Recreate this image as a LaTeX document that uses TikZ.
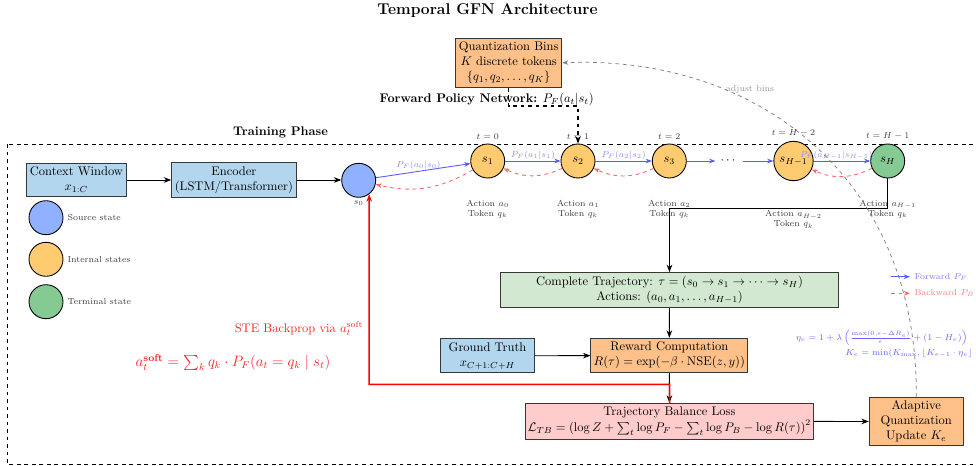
\documentclass[tikz,border=0pt]{standalone}
\usepackage{amsmath}
\usetikzlibrary{arrows.meta,calc}
\definecolor{boxblue}{RGB}{178,214,237}
\definecolor{boxorange}{RGB}{253,192,136}
\definecolor{boxgreen}{RGB}{210,232,208}
\definecolor{boxpink}{RGB}{255,204,204}
\definecolor{stblue}{RGB}{143,177,255}
\definecolor{storange}{RGB}{254,203,112}
\definecolor{stgreen}{RGB}{133,202,147}
\definecolor{edgegray}{RGB}{55,55,55}
\begin{document}
\begin{tikzpicture}[x=0.8pt,y=-0.8pt,
  box/.style={draw=edgegray,line width=0.8pt,align=center,inner sep=2pt},
  state/.style={circle,draw=black,line width=0.7pt,minimum size=27.2pt,inner sep=0pt},
  fwd/.style={-{Stealth[length=5pt]},draw=blue!65,line width=0.7pt},
  bwd/.style={-{Stealth[length=5pt]},draw=red!60,dashed,line width=0.7pt},
  arr/.style={-{Stealth[length=6pt]},draw=black,line width=0.7pt},
  small/.style={font=\scriptsize,text=black!75,inner sep=1pt},
  flab/.style={font=\scriptsize,text=blue!45,inner sep=1pt},
]
\useasboundingbox (0,0) rectangle (976,466);
\clip (0,0) rectangle (976,466);

% title
\node[font=\fontsize{12.5}{15}\selectfont\bfseries] (title) at (487.5,11) {Temporal GFN Architecture};

% quantization bins
\node[box,fill=boxorange,minimum width=84.8pt,minimum height=39.2pt] (qb) at (508.7,62.8)
  {Quantization Bins\\$K$ discrete tokens\\$\{q_1,q_2,\ldots,q_K\}$};
\node (fpn) at (486.7,99) {\textbf{Forward Policy Network:} $P_F(a_t|s_t)$};

% training phase
\draw[dashed,line width=0.7pt] (7,144) rectangle (995,464);
\node[font=\bfseries] (tp) at (280.5,132.7) {Training Phase};

% input boxes
\node[box,fill=boxblue,minimum width=79.5pt,minimum height=26.9pt] (ctx) at (76.4,180) {Context Window\\$x_{1:C}$};
\node[box,fill=boxblue,minimum width=99.5pt,minimum height=27.7pt] (enc) at (233.9,180) {Encoder\\(LSTM/Transformer)};

% states
\node[state,fill=stblue,label={[small,label distance=1pt]below:$s_0$}] (s0) at (358.7,180.3) {};
\node[state,fill=storange,label={[small,label distance=2pt]above:$t=0$}] (s1) at (487.7,161) {$s_1$};
\node[state,fill=storange,label={[small,label distance=2pt]above:$t=1$}] (s2) at (578,161) {$s_2$};
\node[state,fill=storange,label={[small,label distance=2pt]above:$t=2$}] (s3) at (669.3,161) {$s_3$};
\node[inner sep=4pt] (dots) at (729,161) {$\cdots$};
\node[state,fill=storange,minimum size=31.5pt,label={[small,label distance=2pt]above:$t=H-2$}] (sH1) at (793.5,161) {$s_{H-1}$};
\node[state,fill=stgreen,label={[small,label distance=2pt]above:$t=H-1$}] (sH) at (887.7,161) {$s_H$};

% action labels
\node[small,align=center] (act0) at (487.7,209) {Action $a_0$\\Token $q_k$};
\node[small,align=center] (act1) at (578,209) {Action $a_1$\\Token $q_k$};
\node[small,align=center] (act2) at (669.3,209) {Action $a_2$\\Token $q_k$};
\node[small,align=center] (act3) at (793.5,219.5) {Action $a_{H-2}$\\Token $q_k$};
\node[small,align=center] (act4) at (887.7,209) {Action $a_{H-1}$\\Token $q_k$};

% legend left
\node[state,fill=stblue] (lg1) at (46,217.7) {};
\node[small,anchor=west] (lg1t) at (66,217.7) {Source state};
\node[state,fill=storange] (lg2) at (46,259.3) {};
\node[small,anchor=west] (lg2t) at (66,259.3) {Internal states};
\node[state,fill=stgreen] (lg3) at (46,301.7) {};
\node[small,anchor=west] (lg3t) at (66,301.7) {Terminal state};

% lower boxes
\node[box,fill=boxgreen,minimum width=270pt,minimum height=28pt] (ct) at (669.5,290.2)
  {Complete Trajectory: $\tau=(s_0\to s_1\to\cdots\to s_H)$\\Actions: $(a_0,a_1,\ldots,a_{H-1})$};
\node[box,fill=boxorange,minimum width=125.3pt,minimum height=27.5pt] (rw) at (669.3,355.5)
  {Reward Computation\\$R(\tau)=\exp(-\beta\cdot\mathrm{NSE}(z,y))$};
\node[box,fill=boxblue,minimum width=74.9pt,minimum height=27pt] (gt) at (487.5,355.8)
  {Ground Truth\\$x_{C+1:C+H}$};
\node[box,fill=boxpink,minimum width=230pt,minimum height=28.8pt,inner sep=1pt] (tb) at (669.5,421.3)
  {Trajectory Balance Loss\\[1pt]$\mathcal{L}_{TB}=\left(\log Z+\sum_t\log P_F-\sum_t\log P_B-\log R(\tau)\right)^2$};
\node[box,fill=boxorange,minimum width=75.2pt,minimum height=38.7pt] (aq) at (916.3,421.5)
  {Adaptive\\Quantization\\Update $K_e$};

% main arrows
\draw[arr] (ctx) -- (enc);
\draw[arr] (enc.east) -- (enc.east -| s0.west);
\coordinate (fp1) at (508.7,106);
\draw[dashed,line width=0.9pt,-{Stealth[length=6pt]}] (qb.south) -- (fp1) -| (s2.north);

% forward
\draw[fwd] (s0) -- node[flab,above,pos=0.45] {$P_F(a_0|s_0)$} (s1);
\draw[fwd] (s1) -- node[flab,above] {$P_F(a_1|s_1)$} (s2);
\draw[fwd] (s2) -- node[flab,above] {$P_F(a_2|s_2)$} (s3);
\draw[fwd] (s3) -- (dots);
\draw[fwd] (dots) -- (sH1);
\draw[fwd] (sH1) -- node[flab,above,pos=0.4] {$P_F(a_{H-1}|s_{H-1})$} (sH);

% backward
\draw[bwd] (s1) to[bend left=22] (s0);
\draw[bwd] (s2) to[bend left=25] (s1);
\draw[bwd] (s3) to[bend left=25] (s2);
\draw[bwd] (sH) to[bend left=25] (sH1);

% trajectory collection
\coordinate (tj) at (669.5,208.3);
\draw[arr] (sH.south) |- (tj) -- (ct.north);
\draw[arr] (ct) -- (rw);
\draw[arr] (gt) -- (rw);
\draw[arr] (rw) -- (tb);
\draw[arr] (tb) -- (aq);

% STE backprop
\coordinate (r1) at (669.5,384.3);
\coordinate (r2) at (369,384.3);
\draw[red,line width=1.2pt,-{Stealth[length=6pt]}] (tb.north) -- (r1) -- (r2) -- (s0.-53);
\node[text=red!85,inner sep=1pt] (ste) at (299,328.5) {STE Backprop via $a_t^{\text{soft}}$};
\node[text=red!85,font=\large,inner sep=1pt] (soft) at (233,362.5) {$a_t^{\textbf{soft}}=\sum_k q_k\cdot P_F(a_t=q_k\mid s_t)$};

% adjust bins
\draw[dashed,gray,line width=0.6pt,-{Stealth[length=5pt]}] (aq.north) .. controls (918,180) and (760,55) .. (qb.east);
\node[font=\scriptsize,text=gray!80] (adj) at (750,89) {adjust bins};

% legend right
\coordinate (lf1) at (891,276.7);
\coordinate (lf2) at (910,276.7);
\draw[fwd] (lf1) -- (lf2);
\node[anchor=west,font=\scriptsize,text=blue!50,inner sep=1pt] (lft) at (913,276.7) {Forward $P_F$};
\coordinate (lb1) at (891,293.3);
\coordinate (lb2) at (910,293.3);
\draw[bwd] (lb1) -- (lb2);
\node[anchor=west,font=\scriptsize,text=red!50,inner sep=1pt] (lbt) at (913,293.3) {Backward $P_B$};

% adaptive formula
\node[anchor=east,font=\scriptsize,text=blue!60,inner sep=0pt] (eta) at (968,338)
  {$\eta_e=1+\lambda\left(\frac{\max(0,\epsilon-\Delta R_e)}{\epsilon}+(1-H_e)\right)$};
\node[anchor=east,font=\scriptsize,text=blue!60,inner sep=0pt] (ke) at (973,353)
  {$K_e=\min(K_{\max},\left\lfloor K_{e-1}\cdot\eta_e\right\rfloor$};
\end{tikzpicture}
\end{document}
